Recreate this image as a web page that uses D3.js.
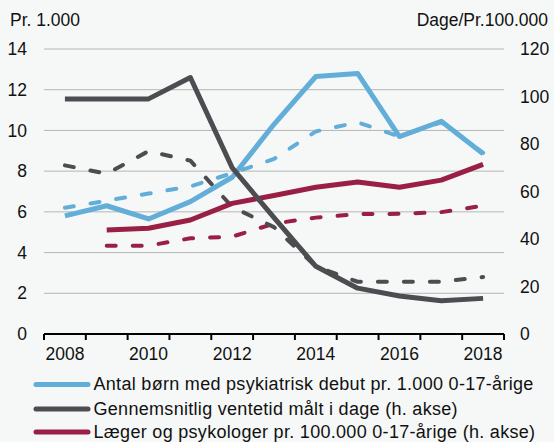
<!DOCTYPE html>
<html>
<head>
<meta charset="utf-8">
<script src="https://cdn.jsdelivr.net/npm/d3@7"></script>
<style>
  html, body { margin: 0; padding: 0; background: #f6f8f8; }
  svg { display: block; }
  text { font-family: "Liberation Sans", Arial, Helvetica, sans-serif; fill: #111; }
</style>
</head>
<body>
<svg id="chart" width="554" height="442"></svg>
<script>
// ---- Data ----
const years = [2008, 2009, 2010, 2011, 2012, 2013, 2014, 2015, 2016, 2017, 2018];
const xTickLabels = [2008, 2010, 2012, 2014, 2016, 2018];
const leftTicks = [0, 2, 4, 6, 8, 10, 12, 14];
const rightTicks = [0, 20, 40, 60, 80, 100, 120];

// Left axis (pr. 1.000)
const boernSolid  = [5.8, 6.3, 5.65, 6.5, 7.7, 10.3, 12.65, 12.8, 9.7, 10.45, 8.85];
const boernDashed = [6.2, 6.55, 6.9, 7.25, 7.9, 8.6, 9.95, 10.4, 9.7, 10.4, 8.9];
// Right axis (dage / pr. 100.000)
const ventetidSolid  = [99, 99, 99, 108, 70, 49, 28.5, 19.3, 16, 14, 15];
const ventetidDashed = [71, 67.5, 77, 73, 53.5, 45, 28.5, 22, 22, 22, 24];
const laegerSolid  = [null, 43.8, 44.5, 48, 55, 58.3, 61.8, 64, 61.8, 64.8, 71.4];
const laegerDashed = [null, 37.2, 37.2, 40.3, 41, 46.5, 49, 50.5, 50.6, 51.3, 54];

const legendLabels = [
  "Antal børn med psykiatrisk debut pr. 1.000 0-17-årige",
  "Gennemsnitlig ventetid målt i dage (h. akse)",
  "Læger og psykologer pr. 100.000 0-17-årige (h. akse)"
];
const leftTitle = "Pr. 1.000";
const rightTitle = "Dage/Pr.100.000";

// ---- Styling ----
const colBlue = "#62aed9", colGray = "#4c4c51", colRed = "#991f45";
const svg = d3.select("#chart");
svg.append("rect").attr("width", 554).attr("height", 442).attr("fill", "#f6f8f8");

const plotL = 44, plotR = 504, plotT = 49, plotB = 334;
const x = d3.scaleBand().domain(years).range([plotL, plotR]).padding(0);
const yL = d3.scaleLinear().domain([0, 14]).range([plotB, plotT]);
const yR = d3.scaleLinear().domain([0, 120]).range([plotB, plotT]);
const fs = "17.5px";

// gridlines
svg.append("g").selectAll("line").data(leftTicks.filter(d => d > 0)).join("line")
  .attr("x1", plotL).attr("x2", plotR)
  .attr("y1", d => yL(d)).attr("y2", d => yL(d))
  .attr("stroke", "#b4b4b4").attr("stroke-width", 1);

// left axis labels
const gL = svg.append("g").attr("transform", `translate(${plotL},0)`)
  .call(d3.axisLeft(yL).tickValues(leftTicks).tickSize(0).tickPadding(17).tickFormat(d3.format("d")));
gL.select(".domain").remove();
gL.selectAll("text").style("font-size", fs).attr("fill", "#111");

// right axis labels
const gR = svg.append("g").attr("transform", `translate(${plotR},0)`)
  .call(d3.axisRight(yR).tickValues(rightTicks).tickSize(0).tickPadding(16).tickFormat(d3.format("d")));
gR.select(".domain").remove();
gR.selectAll("text").style("font-size", fs).attr("fill", "#111");

// x axis
const gX = svg.append("g").attr("transform", `translate(0,${plotB})`)
  .call(d3.axisBottom(x).tickSize(0).tickPadding(14)
    .tickFormat(d => xTickLabels.includes(d) ? String(d) : ""));
gX.select(".domain").attr("stroke", "#000").attr("stroke-width", 2).attr("d", `M${plotL},0H${plotR}`);
gX.selectAll("text").style("font-size", fs).attr("fill", "#111");
// tick marks at band boundaries
const bounds = years.map(d => x(d)).concat([x(years[years.length - 1]) + x.bandwidth()]);
gX.append("g").selectAll("line").data(bounds).join("line")
  .attr("x1", d => d).attr("x2", d => d).attr("y1", 0).attr("y2", 6)
  .attr("stroke", "#000").attr("stroke-width", 2);

// axis titles
svg.append("text").attr("x", 10).attr("y", 26).style("font-size", fs).text(leftTitle);
svg.append("text").attr("x", 548).attr("y", 26).attr("text-anchor", "end").style("font-size", fs).text(rightTitle);

// lines
const cx = d => x(d) + x.bandwidth() / 2;
function drawLine(values, yScale, color, dashed) {
  const line = d3.line()
    .defined(d => d[1] != null)
    .x(d => cx(d[0]))
    .y(d => yScale(d[1]));
  svg.append("path")
    .datum(years.map((yr, i) => [yr, values[i]]))
    .attr("d", line)
    .attr("fill", "none")
    .attr("stroke", color)
    .attr("stroke-width", dashed ? 4 : 5)
    .attr("stroke-linejoin", "round")
    .attr("stroke-linecap", dashed ? "round" : "butt")
    .attr("stroke-dasharray", dashed ? "9,17" : null);
}
drawLine(laegerDashed, yR, colRed, true);
drawLine(ventetidDashed, yR, colGray, true);
drawLine(boernDashed, yL, colBlue, true);
drawLine(laegerSolid, yR, colRed, false);
drawLine(boernSolid, yL, colBlue, false);
drawLine(ventetidSolid, yR, colGray, false);

// legend
const legColors = [colBlue, colGray, colRed];
const legY = [384.5, 409, 432];
const leg = svg.append("g");
legendLabels.forEach((lbl, i) => {
  leg.append("line").attr("x1", 36).attr("x2", 88).attr("y1", legY[i]).attr("y2", legY[i])
    .attr("stroke", legColors[i]).attr("stroke-width", 5).attr("stroke-linecap", "round");
  leg.append("text").attr("x", 93.5).attr("y", legY[i] + 5.5)
    .style("font-size", "18px").style("letter-spacing", "0.3px").text(lbl);
});
</script>
</body>
</html>
